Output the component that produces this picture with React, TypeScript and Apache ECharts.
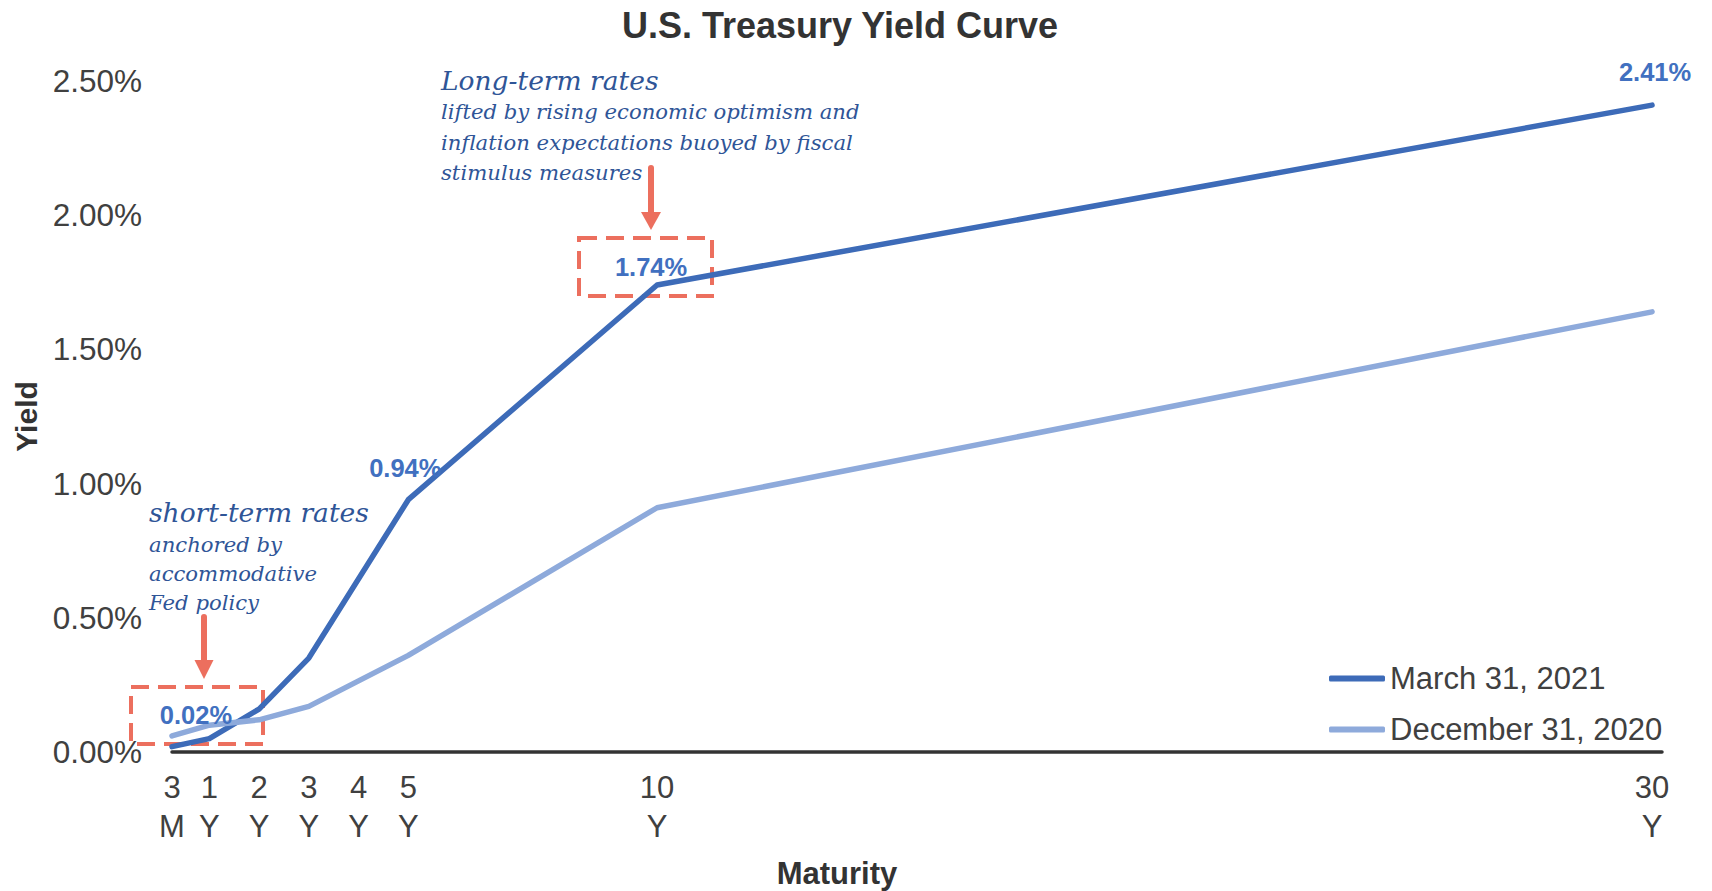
import React, { useEffect, useRef } from "react";
import * as echarts from "echarts";

// ---- Data ----
const MATURITY_YEARS = [0.25, 1, 2, 3, 5, 10, 30];
const MARCH_2021 = [0.02, 0.05, 0.16, 0.35, 0.94, 1.74, 2.41];
const DEC_2020 = [0.06, 0.1, 0.12, 0.17, 0.36, 0.91, 1.64];
const SERIES_NAMES = ["March 31, 2021", "December 31, 2020"];
const TICK_YEARS = [0.25, 1, 2, 3, 4, 5, 10, 30];
const TICK_LABELS = ["3\nM", "1\nY", "2\nY", "3\nY", "4\nY", "5\nY", "10\nY", "30\nY"];
const LABELED_YEARS = [0.25, 5, 10, 30];

// label offsets (styling, keyed by maturity)
const LABEL_OFFSETS: Record<string, number[]> = {
  "0.25": [24, -32],
  "5": [-3, -32],
  "10": [-6, -18],
  "30": [3, -33],
};

const SANS = '"Liberation Sans", Arial, sans-serif';
const SERIF = '"DejaVu Serif", Georgia, serif';
const NOTE_COLOR = "#2f5597";
const CORAL = "#ec6f5e";

export default function App() {
  const ref = useRef<HTMLDivElement>(null);

  useEffect(() => {
    if (!ref.current) return;
    const chart = echarts.init(ref.current, undefined, { renderer: "svg" });

    const marchData = MATURITY_YEARS.map((x, i) => {
      const item: any = { value: [x, MARCH_2021[i]] };
      if (LABELED_YEARS.includes(x)) {
        item.label = { show: true, offset: LABEL_OFFSETS[String(x)] };
      }
      return item;
    });
    const decData = MATURITY_YEARS.map((x, i) => [x, DEC_2020[i]]);

    const noteText = (text: string, x: number, y: number, size: number) => ({
      type: "text",
      x,
      y,
      style: {
        text,
        fill: NOTE_COLOR,
        fontFamily: SERIF,
        fontStyle: "italic",
        fontSize: size,
        align: "left",
        verticalAlign: "middle",
      },
    });

    const arrow = (x: number, y1: number, y2: number, headH: number, headW: number) => [
      {
        type: "line",
        shape: { x1: x, y1, x2: x, y2: y2 - headH + 2 },
        style: { stroke: CORAL, lineWidth: 6, lineCap: "round" },
      },
      {
        type: "polygon",
        shape: {
          points: [
            [x - headW / 2, y2 - headH],
            [x + headW / 2, y2 - headH],
            [x, y2],
          ],
        },
        style: { fill: CORAL },
      },
    ];

    const dashedBox = (x: number, y: number, w: number, h: number) => ({
      type: "rect",
      shape: { x, y, width: w, height: h },
      style: { fill: "none", stroke: CORAL, lineWidth: 4, lineDash: [18, 9] },
    });

    chart.setOption({
      animation: false,
      backgroundColor: "#ffffff",
      title: {
        text: "U.S. Treasury Yield Curve",
        left: 840,
        top: 25,
        padding: 0,
        textAlign: "center",
        textVerticalAlign: "middle",
        textStyle: { fontFamily: SANS, fontSize: 36, fontWeight: "bold", color: "#333333" },
      },
      legend: {
        data: SERIES_NAMES,
        orient: "vertical",
        left: 1329,
        top: 663,
        padding: 0,
        itemWidth: 56,
        itemHeight: 6,
        itemGap: 20,
        icon: "roundRect",
        textStyle: { fontFamily: SANS, fontSize: 31, color: "#404040" },
      },
      grid: { left: 172, right: 50, top: 81, bottom: 139 },
      xAxis: {
        type: "value",
        min: 0.25,
        max: 30.2,
        axisLine: { show: true, lineStyle: { color: "#333333", width: 3.5 } },
        axisTick: { show: false },
        splitLine: { show: false },
        axisLabel: {
          customValues: TICK_YEARS,
          formatter: (v: number) => {
            const i = TICK_YEARS.indexOf(v);
            return i >= 0 ? TICK_LABELS[i] : "";
          },
          fontFamily: SANS,
          fontSize: 31,
          lineHeight: 39,
          margin: 16,
          color: "#404040",
        },
      },
      yAxis: {
        type: "value",
        min: 0,
        max: 2.5,
        interval: 0.5,
        name: "Yield",
        nameLocation: "middle",
        nameRotate: 90,
        nameGap: 130,
        nameTextStyle: { fontFamily: SANS, fontSize: 30, fontWeight: "bold", color: "#333333" },
        axisLine: { show: false },
        axisTick: { show: false },
        splitLine: { show: false },
        axisLabel: {
          formatter: (v: number) => v.toFixed(2) + "%",
          fontFamily: SANS,
          fontSize: 31.5,
          margin: 30,
          color: "#404040",
        },
      },
      series: [
        {
          name: SERIES_NAMES[0],
          type: "line",
          data: marchData,
          symbol: "circle",
          symbolSize: 0,
          showSymbol: true,
          color: "#3d6bb8",
          lineStyle: { color: "#3d6bb8", width: 5.5, cap: "round", join: "round" },
          label: {
            show: false,
            position: "inside",
            align: "center",
            verticalAlign: "middle",
            formatter: (p: any) => p.value[1].toFixed(2) + "%",
            fontFamily: SANS,
            fontSize: 25.5,
            fontWeight: "bold",
            color: "#4170c0",
          },
          emphasis: { disabled: true },
          z: 3,
        },
        {
          name: SERIES_NAMES[1],
          type: "line",
          data: decData,
          showSymbol: false,
          symbol: "none",
          color: "#8eaadb",
          lineStyle: { color: "#8eaadb", width: 5.5, cap: "round", join: "round" },
          emphasis: { disabled: true },
          z: 3,
        },
      ],
      graphic: [
        {
          type: "text",
          x: 837,
          y: 873,
          style: {
            text: "Maturity",
            fill: "#333333",
            fontFamily: SANS,
            fontSize: 31,
            fontWeight: "bold",
            align: "center",
            verticalAlign: "middle",
          },
        },
        noteText("Long-term rates", 441, 80, 26.5),
        noteText("lifted by rising economic optimism and", 441, 111, 21.2),
        noteText("inflation expectations buoyed by fiscal", 441, 142, 21.2),
        noteText("stimulus measures", 441, 172, 21.2),
        noteText("short-term rates", 149, 512, 26.5),
        noteText("anchored by", 149, 544, 21.2),
        noteText("accommodative", 149, 573, 21.2),
        noteText("Fed policy", 149, 602, 21.2),
        ...arrow(651, 168, 230, 18, 20),
        ...arrow(204, 617, 679, 19, 19),
        dashedBox(579, 238, 133, 58),
        dashedBox(131, 687, 132, 57),
      ],
    });

    return () => chart.dispose();
  }, []);

  return (
    <div
      ref={ref}
      style={{ position: "absolute", left: 0, top: 0, width: 1712, height: 891, background: "#fff" }}
    />
  );
}
